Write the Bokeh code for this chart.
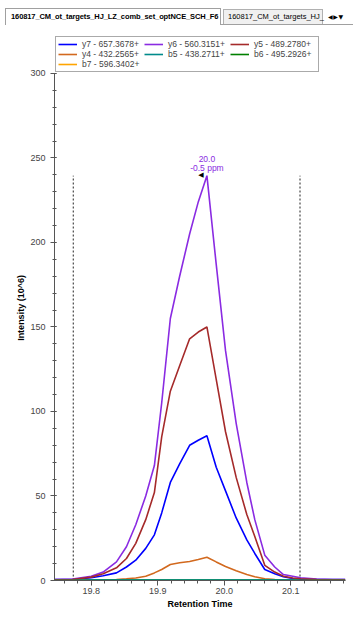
import numpy as np
from bokeh.plotting import figure
from bokeh.models import (ColumnDataSource, Legend, LegendItem, FixedTicker,
                          PrintfTickFormatter, Range1d, Div)
from bokeh.layouts import column
from bokeh.embed import file_html
from bokeh.resources import INLINE
from bokeh.core.properties import value

# ---------------- data ----------------
rt = [19.745, 19.772, 19.800, 19.818, 19.838, 19.853, 19.867, 19.882, 19.895, 19.906,
      19.919, 19.933, 19.948, 19.961, 19.974, 19.988, 20.002, 20.018, 20.034, 20.046,
      20.061, 20.076, 20.089, 20.103, 20.115, 20.139, 20.163, 20.182]

y7 = [0.5, 0.6, 1.6, 2.8, 4.5, 8, 12, 19, 27, 40,
      58, 69, 80, 83, 85.6, 67, 53, 37, 24, 16,
      6.5, 4, 2.2, 1.2, 0.8, 0.5, 0.5, 0.5]
y6 = [0.5, 0.8, 2.5, 5, 11, 20, 33, 50, 68, 105,
      155, 180, 205, 224, 239.5, 187, 136, 93, 58, 36,
      15, 8, 3.5, 2.5, 1.6, 0.8, 0.5, 0.5]
y5 = [0.4, 0.6, 2, 4, 7.5, 13, 22, 36, 52, 85,
      112, 127, 143, 147, 150, 119, 88, 61, 39, 26,
      9, 5, 2.5, 1.5, 1, 0.6, 0.4, 0.4]
y4 = [0, 0, 0.2, 0.4, 0.6, 1, 1.5, 2.5, 4.5, 6.5,
      9.5, 10.5, 11.2, 12.4, 13.8, 11, 8.3, 5.8, 3.5, 2.2,
      1, 0.5, 0.2, 0.1, 0, 0, 0, 0]
b5 = [0, 0, 0.3, 0.3, 0.3, 0.3, 0.3, 0.3, 0.3, 0.3,
      0.3, 0.3, 0.3, 0.3, 0.3, 0.3, 0.3, 0.3, 0.3, 0.3,
      0.3, 0.3, 0.3, 0.3, 0, 0, 0, 0]
b6 = [0, 0, 0.2, 0.2, 0.2, 0.2, 0.2, 0.2, 0.2, 0.2,
      0.2, 0.2, 0.2, 0.2, 0.2, 0.2, 0.2, 0.2, 0.2, 0.2,
      0.2, 0.2, 0.2, 0.2, 0, 0, 0, 0]
b7 = [0, 0, 0, 0, 0, 0, 0, 0, 0, 0,
      0, 0, 0, 0, 0, 0, 0, 0, 0, 0,
      0, 0, 0, 0, 0, 0, 0, 0]

series_names = ["y7 - 657.3678+", "y6 - 560.3151+", "y5 - 489.2780+",
                "y4 - 432.2565+", "b5 - 438.2711+", "b6 - 495.2926+",
                "b7 - 596.3402+"]
series_colors = ["#0000FF", "#8A2BE2", "#A52A2A", "#D2691E", "#008B8B", "#008000", "#FFA500"]

boundaries = [19.773, 20.114]
peak_labels = ["20.0", "-0.5 ppm"]

x_ticks = [19.8, 19.9, 20.0, 20.1]
y_ticks = [0, 50, 100, 150, 200, 250, 300]

FONT = "Liberation Sans"
W = 348
H = 579
TOP, BOTTOM = 3, 30

# ---------------- tab bar ----------------
tab_html = """
<div style="position:relative;width:348px;height:22px;overflow:hidden;font-family:'Liberation Sans',Arial,sans-serif;">
  <div style="position:absolute;left:0;top:19px;width:348px;height:0;border-top:1px solid #a0a0a0;"></div>
  <div style="position:absolute;left:0;top:3px;width:216px;height:17px;border:1px solid #a0a0a0;border-bottom:none;background:#ffffff;"></div>
  <div style="position:absolute;left:6px;top:3px;height:17px;line-height:17px;font-size:7.5px;letter-spacing:-0.1px;font-weight:bold;color:#000;white-space:nowrap;">160817_CM_ot_targets_HJ_LZ_comb_set_optNCE_SCH_F6</div>
  <div style="position:absolute;left:218px;top:4px;width:100px;height:15px;border:1px solid #b0b0b0;border-bottom:none;background:#f0f0f0;"></div>
  <div style="position:absolute;left:223px;top:4px;height:15px;line-height:15px;font-size:7.5px;color:#000;white-space:nowrap;">160817_CM_ot_targets_HJ_</div>
  <div style="position:absolute;left:323px;top:4px;height:15px;line-height:15px;font-size:6px;color:#000;white-space:nowrap;font-family:'DejaVu Sans';">&#9664;&#8202;&#9654;&#8202;&#9660;</div>
</div>
"""
tabs = Div(text=tab_html, width=W, height=22)

# ---------------- figure ----------------
y_top = (H - TOP - BOTTOM) * 300 / 508  # 300 sits 508 px above 0; the rest is legend room
p = figure(width=W, height=H,
           x_range=Range1d(19.7448, 20.1824), y_range=Range1d(0, y_top),
           output_backend="svg", toolbar_location=None,
           min_border_left=54, min_border_right=3, min_border_top=TOP, min_border_bottom=BOTTOM)
p.outline_line_color = None
p.grid.visible = False
p.background_fill_color = "white"

# integration boundaries
peak_idx = int(np.argmax(y6))
peak_rt = rt[peak_idx]
peak_val = y6[peak_idx]
p.segment(x0=boundaries, y0=[0, 0], x1=boundaries, y1=[peak_val, peak_val],
          line_dash="2 2", line_color="#222222", line_width=1)

series = [y7, y6, y5, y4, b5, b6, b7]
renderers = [None] * 7
draw_order = [6, 0, 1, 2, 3, 5, 4]
for i in draw_order:
    renderers[i] = p.line(rt, series[i], line_color=series_colors[i], line_width=1.6)

# peak annotation
ann = ColumnDataSource(dict(x=[peak_rt, peak_rt], y=[peak_val, peak_val],
                            text=peak_labels, yo=[-17, -8]))
p.text(x="x", y="y", text="text", y_offset="yo", source=ann,
       text_align="center", text_baseline="middle",
       text_font=value(FONT), text_font_size="8.5px", text_color="#8A2BE2")
tri = ColumnDataSource(dict(x=[peak_rt], y=[peak_val], text=["\u25C0"]))
p.text(x="x", y="y", text="text", source=tri, x_offset=-6, y_offset=-1,
       text_align="center", text_baseline="middle",
       text_font=value("DejaVu Sans"), text_font_size="7px", text_color="#000000")

# axes
x_minor = [round(v, 2) for v in np.arange(19.76, 20.19, 0.02)]
y_minor = list(range(0, 301, 10))
p.xaxis.ticker = FixedTicker(ticks=x_ticks, minor_ticks=x_minor)
p.xaxis.formatter = PrintfTickFormatter(format="%.1f")
p.yaxis.ticker = FixedTicker(ticks=y_ticks, minor_ticks=y_minor)
p.yaxis.bounds = (0, 300)
p.xaxis.axis_label = "Retention Time"
p.yaxis.axis_label = "Intensity (10^6)"

for ax in (p.xaxis[0], p.yaxis[0]):
    ax.axis_line_color = "#555555"
    ax.major_tick_line_color = "#555555"
    ax.minor_tick_line_color = "#555555"
    ax.major_label_text_font = FONT
    ax.major_label_text_font_size = "9px"
    ax.major_label_text_color = "#444444"
    ax.axis_label_text_font = FONT
    ax.axis_label_text_font_size = "9px"
    ax.axis_label_text_font_style = "bold"
    ax.axis_label_text_color = "#000000"

p.xaxis.major_tick_out = 5
p.xaxis.major_tick_in = 0
p.xaxis.minor_tick_out = 3
p.xaxis.minor_tick_in = 0
p.xaxis.major_label_standoff = 2
p.xaxis.axis_label_standoff = 2

p.yaxis.major_tick_out = 4
p.yaxis.major_tick_in = 2
p.yaxis.minor_tick_out = 2
p.yaxis.minor_tick_in = 2
p.yaxis.major_label_standoff = 5
p.yaxis.axis_label_standoff = 1

# legend
items = [LegendItem(label=series_names[i], renderers=[renderers[i]]) for i in range(7)]
legend = Legend(items=items, orientation="horizontal", ncols=3, location="top_left",
                margin=1, padding=2, spacing=0, glyph_width=19, glyph_height=8,
                label_height=8, label_width=62, label_standoff=5, label_text_font=FONT,
                label_text_font_size="8.5px",
                border_line_color="#555555",
                border_line_width=1, background_fill_color="white",
                background_fill_alpha=1.0)
p.add_layout(legend)

layout = column(tabs, p, spacing=0)
open("out.html", "w").write(file_html(layout, INLINE))
